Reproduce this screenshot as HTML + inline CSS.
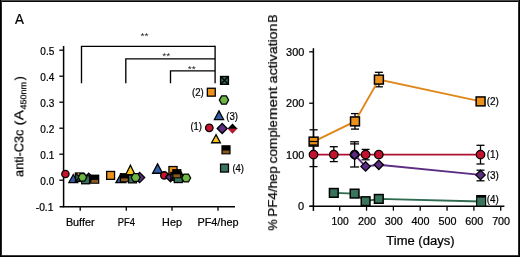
<!DOCTYPE html>
<html><head><meta charset="utf-8"><title>Figure</title>
<style>
html,body{margin:0;padding:0;background:#fff;}
svg{display:block;will-change:transform;font-family:"Liberation Sans","DejaVu Sans",sans-serif;fill:#000;}
text{stroke:#000;stroke-width:0.24px;filter:url(#nf);}
</style></head><body>
<svg width="520" height="257" viewBox="0 0 520 257">
<defs><filter id="nf" x="-10%" y="-10%" width="120%" height="120%"><feOffset dx="0" dy="0"/></filter></defs>
<rect x="0" y="0" width="520" height="257" fill="#fff"/>
<g shape-rendering="crispEdges">
<rect x="0" y="0" width="520" height="1" fill="#484848"/>
<rect x="0" y="1" width="520" height="1" fill="#0a0a0a"/>
<rect x="0" y="255" width="520" height="1" fill="#3c3c3c"/>
<rect x="0" y="256" width="520" height="1" fill="#000"/>
<rect x="0" y="0" width="1" height="257" fill="#000"/>
<rect x="1" y="1" width="1" height="255" fill="#2a2a2a"/>
<rect x="519" y="0" width="1" height="257" fill="#000"/>
<rect x="518" y="1" width="1" height="255" fill="#2c2c2c"/>
</g>
<text x="14.9" y="24.2" font-size="14.5" text-anchor="start" textLength="8.9" lengthAdjust="spacingAndGlyphs">A</text>
<line x1="63.6" y1="46" x2="63.6" y2="207.4" stroke="#000" stroke-width="1.5"/>
<line x1="59.6" y1="206.75" x2="235" y2="206.75" stroke="#000" stroke-width="1.5"/>
<line x1="59.3" y1="50.2" x2="63.6" y2="50.2" stroke="#000" stroke-width="1.3"/>
<text x="54.3" y="54.5" font-size="11" text-anchor="end" textLength="14" lengthAdjust="spacingAndGlyphs">0.5</text>
<line x1="59.3" y1="76.2" x2="63.6" y2="76.2" stroke="#000" stroke-width="1.3"/>
<text x="54.3" y="80.5" font-size="11" text-anchor="end" textLength="14" lengthAdjust="spacingAndGlyphs">0.4</text>
<line x1="59.3" y1="102.2" x2="63.6" y2="102.2" stroke="#000" stroke-width="1.3"/>
<text x="54.3" y="106.5" font-size="11" text-anchor="end" textLength="14" lengthAdjust="spacingAndGlyphs">0.3</text>
<line x1="59.3" y1="128.2" x2="63.6" y2="128.2" stroke="#000" stroke-width="1.3"/>
<text x="54.3" y="132.5" font-size="11" text-anchor="end" textLength="14" lengthAdjust="spacingAndGlyphs">0.2</text>
<line x1="59.3" y1="154.2" x2="63.6" y2="154.2" stroke="#000" stroke-width="1.3"/>
<text x="54.3" y="158.5" font-size="11" text-anchor="end" textLength="14" lengthAdjust="spacingAndGlyphs">0.1</text>
<line x1="59.3" y1="180.2" x2="63.6" y2="180.2" stroke="#000" stroke-width="1.3"/>
<text x="54.3" y="184.5" font-size="11" text-anchor="end" textLength="14" lengthAdjust="spacingAndGlyphs">0.0</text>
<text x="53.5" y="210.7" font-size="11" text-anchor="end" textLength="17.8" lengthAdjust="spacingAndGlyphs">-0.1</text>
<line x1="80.2" y1="206.5" x2="80.2" y2="210.8" stroke="#000" stroke-width="1.3"/>
<text x="80.2" y="225.5" font-size="11.5" text-anchor="middle" textLength="28.6" lengthAdjust="spacingAndGlyphs">Buffer</text>
<line x1="126.3" y1="206.5" x2="126.3" y2="210.8" stroke="#000" stroke-width="1.3"/>
<text x="126.3" y="225.5" font-size="11.5" text-anchor="middle" textLength="17.2" lengthAdjust="spacingAndGlyphs">PF4</text>
<line x1="172" y1="206.5" x2="172" y2="210.8" stroke="#000" stroke-width="1.3"/>
<text x="172" y="225.5" font-size="11.5" text-anchor="middle" textLength="19.8" lengthAdjust="spacingAndGlyphs">Hep</text>
<line x1="218" y1="206.5" x2="218" y2="210.8" stroke="#000" stroke-width="1.3"/>
<text x="218" y="225.5" font-size="11.5" text-anchor="middle" textLength="41.2" lengthAdjust="spacingAndGlyphs">PF4/hep</text>
<g transform="translate(23.4,177) rotate(-90)">
<text x="0.1" y="0" font-size="13" text-anchor="start" textLength="47.4" lengthAdjust="spacingAndGlyphs">anti-C3c</text>
<text x="51.6" y="0" font-size="13" text-anchor="start" textLength="15.3" lengthAdjust="spacingAndGlyphs">(A</text>
<text x="67.4" y="2.5" font-size="8.8" text-anchor="start" textLength="27.6" lengthAdjust="spacingAndGlyphs">450nm</text>
<text x="96.6" y="0" font-size="13" text-anchor="start">)</text>
</g>
<path d="M81.5,83.2 V46.4 H215.1" fill="none" stroke="#000" stroke-width="1.35"/>
<path d="M125.8,83.2 V58.9 H215.1" fill="none" stroke="#000" stroke-width="1.35"/>
<path d="M170.5,83.2 V70.8 H215.1" fill="none" stroke="#000" stroke-width="1.35"/>
<line x1="215.1" y1="45.8" x2="215.1" y2="83.2" stroke="#000" stroke-width="1.35"/>
<text x="144.6" y="39.400000000000006" font-size="9.6" text-anchor="middle" textLength="8.0" lengthAdjust="spacingAndGlyphs" style="stroke:none;fill:#1a1a1a">**</text>
<text x="166.3" y="59.2" font-size="9.6" text-anchor="middle" textLength="8.0" lengthAdjust="spacingAndGlyphs" style="stroke:none;fill:#1a1a1a">**</text>
<text x="191.8" y="71.5" font-size="9.6" text-anchor="middle" textLength="8.0" lengthAdjust="spacingAndGlyphs" style="stroke:none;fill:#1a1a1a">**</text>
<circle cx="65.4" cy="174" r="3.65" fill="#C4122F" stroke="#000" stroke-width="1.3"/>
<rect x="75.55" y="173.55" width="7.90" height="7.90" fill="#EC921C" stroke="#000" stroke-width="1.3"/>
<polygon points="88.7,173.21 93.29,177.8 88.7,182.39000000000001 84.11,177.8" fill="#5C2D82" stroke="#000" stroke-width="1.3"/>
<polygon points="73.3,174.5 68.89999999999999,182.54999999999998 77.7,182.54999999999998" fill="#2F5FA6" stroke="#000" stroke-width="1.3" stroke-linejoin="miter"/>
<rect x="75.55" y="173.15" width="8.10" height="8.10" fill="#39755B" stroke="#000" stroke-width="1.5"/>
<path d="M75.8,173.39999999999998 L83.39999999999999,181.0 M83.39999999999999,173.39999999999998 L75.8,181.0" stroke="#000" stroke-width="1.25" fill="none"/>
<rect x="81.65" y="175.85" width="7.90" height="7.90" fill="#39755B" stroke="#000" stroke-width="1.3"/>
<polygon points="86.75,177.40 84.62,181.19 80.38,181.19 78.25,177.40 80.38,173.61 84.62,173.61" fill="#6DB644" stroke="#000" stroke-width="1.3"/>
<rect x="77.6" y="173.2" width="1.6" height="1.2" fill="#F0941D"/>
<rect x="90.10" y="174.60" width="9.2" height="9.2" fill="#000"/>
<rect x="91.35" y="179.90" width="6.699999999999999" height="2.90" fill="#8A5922"/>
<rect x="106.65" y="171.45" width="7.90" height="7.90" fill="#EC921C" stroke="#000" stroke-width="1.3"/>
<polygon points="120.8,174.20000000000002 115.89999999999999,182.55 125.7,182.55" fill="#2F5FA6" stroke="#000" stroke-width="1.3" stroke-linejoin="miter"/>
<polygon points="139.6,172.51 144.69,177.6 139.6,182.69 134.51,177.6" fill="#5C2D82" stroke="#000" stroke-width="1.3"/>
<rect x="128.55" y="174.95" width="7.90" height="7.90" fill="#39755B" stroke="#000" stroke-width="1.3"/>
<rect x="119.80" y="173.10" width="9.2" height="9.2" fill="#000"/>
<rect x="121.05" y="178.40" width="6.699999999999999" height="2.90" fill="#8A5922"/>
<polygon points="130.4,165.3 125.8,174.55 135.0,174.55" fill="#F7C51E" stroke="#000" stroke-width="1.3" stroke-linejoin="miter"/>
<polygon points="140.15,177.50 137.92,181.47 133.47,181.47 131.25,177.50 133.47,173.53 137.92,173.53" fill="#6DB644" stroke="#000" stroke-width="1.3"/>
<polygon points="157.6,163.9 152.6,173.25 162.6,173.25" fill="#2F5FA6" stroke="#000" stroke-width="1.3" stroke-linejoin="miter"/>
<circle cx="164.3" cy="175.4" r="3.65" fill="#C4122F" stroke="#000" stroke-width="1.3"/>
<polygon points="170.5,172.21 175.29,177.0 170.5,181.79 165.71,177.0" fill="#5C2D82" stroke="#000" stroke-width="1.3"/>
<rect x="168.95" y="166.55" width="8.10" height="8.10" fill="#EC921C" stroke="#000" stroke-width="1.3"/>
<polygon points="180.2,170.5 177.29999999999998,175.95 183.1,175.95" fill="#F7C51E" stroke="#000" stroke-width="1.3" stroke-linejoin="miter"/>
<rect x="170.95" y="172.55" width="7.70" height="7.70" fill="#39755B" stroke="#000" stroke-width="1.5"/>
<path d="M171.20000000000002,172.8 L178.4,180.0 M178.4,172.8 L171.20000000000002,180.0" stroke="#000" stroke-width="1.25" fill="none"/>
<rect x="174.25" y="174.45" width="8.10" height="8.10" fill="#39755B" stroke="#000" stroke-width="1.3"/>
<rect x="172.20" y="169.10" width="9.2" height="9.2" fill="#000"/>
<rect x="173.45" y="174.40" width="6.699999999999999" height="2.90" fill="#8A5922"/>
<polygon points="190.65,178.00 188.42,181.97 183.97,181.97 181.75,178.00 183.97,174.03 188.42,174.03" fill="#6DB644" stroke="#000" stroke-width="1.3"/>
<rect x="220.65" y="76.55" width="7.70" height="7.70" fill="#39755B" stroke="#000" stroke-width="1.5"/>
<path d="M220.9,76.80000000000001 L228.1,84.0 M228.1,76.80000000000001 L220.9,84.0" stroke="#000" stroke-width="1.25" fill="none"/>
<rect x="207.35" y="88.25" width="7.90" height="7.90" fill="#EC921C" stroke="#000" stroke-width="1.3"/>
<polygon points="228.65,100.00 226.32,104.15 221.68,104.15 219.35,100.00 221.68,95.85 226.32,95.85" fill="#6DB644" stroke="#000" stroke-width="1.3"/>
<polygon points="219,110.9 214.4,119.55 223.6,119.55" fill="#2F5FA6" stroke="#000" stroke-width="1.3" stroke-linejoin="miter"/>
<circle cx="209.3" cy="127.8" r="3.75" fill="#C4122F" stroke="#000" stroke-width="1.3"/>
<polygon points="222.2,123.51 227.19,128.5 222.2,133.49 217.20999999999998,128.5" fill="#5C2D82" stroke="#000" stroke-width="1.3"/>
<polygon points="227.7,128.4 237.3,128.4 232.5,133.4" fill="#C4122F" stroke="#7a0a1c" stroke-width="0.4"/>
<polygon points="227.5,128.70000000000002 232.5,123.50000000000001 237.5,128.70000000000002" fill="#000"/>
<polygon points="216,134.70000000000002 211.6,142.75 220.4,142.75" fill="#F7C51E" stroke="#000" stroke-width="1.3" stroke-linejoin="miter"/>
<rect x="221.40" y="145.20" width="9.2" height="9.2" fill="#000"/>
<rect x="222.65" y="150.50" width="6.699999999999999" height="2.90" fill="#8A5922"/>
<rect x="220.55" y="164.15" width="7.90" height="7.90" fill="#39755B" stroke="#000" stroke-width="1.3"/>
<text x="192" y="95.8" font-size="11.5" text-anchor="start" textLength="11.8" lengthAdjust="spacingAndGlyphs">(2)</text>
<text x="226.2" y="119.6" font-size="11.5" text-anchor="start" textLength="11.8" lengthAdjust="spacingAndGlyphs">(3)</text>
<text x="190.4" y="129.8" font-size="11.5" text-anchor="start" textLength="11.6" lengthAdjust="spacingAndGlyphs">(1)</text>
<text x="232.4" y="171.8" font-size="11.5" text-anchor="start" textLength="11.6" lengthAdjust="spacingAndGlyphs">(4)</text>
<line x1="313.4" y1="48.2" x2="313.4" y2="210.9" stroke="#000" stroke-width="1.5"/>
<line x1="309.6" y1="206.3" x2="504.4" y2="206.3" stroke="#000" stroke-width="1.45"/>
<line x1="309.2" y1="51.8" x2="313.4" y2="51.8" stroke="#000" stroke-width="1.3"/>
<text x="304.3" y="55.8" font-size="11" text-anchor="end" textLength="18.2" lengthAdjust="spacingAndGlyphs">300</text>
<line x1="309.2" y1="103.22999999999999" x2="313.4" y2="103.22999999999999" stroke="#000" stroke-width="1.3"/>
<text x="304.3" y="107.22999999999999" font-size="11" text-anchor="end" textLength="18.2" lengthAdjust="spacingAndGlyphs">200</text>
<line x1="309.2" y1="154.66" x2="313.4" y2="154.66" stroke="#000" stroke-width="1.3"/>
<text x="304.3" y="158.66" font-size="11" text-anchor="end" textLength="18.2" lengthAdjust="spacingAndGlyphs">100</text>
<line x1="309.2" y1="206.28999999999996" x2="313.4" y2="206.28999999999996" stroke="#000" stroke-width="1.3"/>
<text x="304.1" y="210.08999999999997" font-size="11" text-anchor="end">0</text>
<line x1="339.7" y1="206" x2="339.7" y2="210.7" stroke="#000" stroke-width="1.3"/>
<text x="340.09999999999997" y="225.1" font-size="11" text-anchor="middle" textLength="17.2" lengthAdjust="spacingAndGlyphs">100</text>
<line x1="366.54" y1="206" x2="366.54" y2="210.7" stroke="#000" stroke-width="1.3"/>
<text x="366.94" y="225.1" font-size="11" text-anchor="middle" textLength="18" lengthAdjust="spacingAndGlyphs">200</text>
<line x1="393.38" y1="206" x2="393.38" y2="210.7" stroke="#000" stroke-width="1.3"/>
<text x="393.78" y="225.1" font-size="11" text-anchor="middle" textLength="18" lengthAdjust="spacingAndGlyphs">300</text>
<line x1="420.22" y1="206" x2="420.22" y2="210.7" stroke="#000" stroke-width="1.3"/>
<text x="420.62" y="225.1" font-size="11" text-anchor="middle" textLength="18" lengthAdjust="spacingAndGlyphs">400</text>
<line x1="447.06" y1="206" x2="447.06" y2="210.7" stroke="#000" stroke-width="1.3"/>
<text x="447.46" y="225.1" font-size="11" text-anchor="middle" textLength="18" lengthAdjust="spacingAndGlyphs">500</text>
<line x1="473.9" y1="206" x2="473.9" y2="210.7" stroke="#000" stroke-width="1.3"/>
<text x="474.29999999999995" y="225.1" font-size="11" text-anchor="middle" textLength="18" lengthAdjust="spacingAndGlyphs">600</text>
<line x1="500.74" y1="206" x2="500.74" y2="210.7" stroke="#000" stroke-width="1.3"/>
<text x="501.14" y="225.1" font-size="11" text-anchor="middle" textLength="18" lengthAdjust="spacingAndGlyphs">700</text>
<text x="386.3" y="244.8" font-size="12.5" text-anchor="start" textLength="68.2" lengthAdjust="spacingAndGlyphs">Time (days)</text>
<g transform="translate(277.1,230.2) rotate(-90)">
<text x="-0.4" y="0" font-size="12.5" text-anchor="start" textLength="11.3" lengthAdjust="spacingAndGlyphs">%</text>
<text x="13.6" y="0" font-size="12.5" text-anchor="start" textLength="50.2" lengthAdjust="spacingAndGlyphs">PF4/hep</text>
<text x="66.7" y="0" font-size="12.5" text-anchor="start" textLength="25.8" lengthAdjust="spacingAndGlyphs">com</text>
<text x="92.8" y="0" font-size="12.5" text-anchor="start" textLength="16.9" lengthAdjust="spacingAndGlyphs">ple</text>
<text x="110.3" y="0" font-size="12.5" text-anchor="start" textLength="33.2" lengthAdjust="spacingAndGlyphs">ment</text>
<text x="146.8" y="0" font-size="12.5" text-anchor="start" textLength="59.8" lengthAdjust="spacingAndGlyphs">activation</text>
<text x="207.5" y="0" font-size="12" text-anchor="start" textLength="8.2" lengthAdjust="spacingAndGlyphs">B</text>
</g>
<polyline points="333.8,192.9 354.6,193.6 365.6,201.2 378.8,198.9 481,201.5" fill="none" stroke="#2F6B50" stroke-width="1.9"/>
<rect x="329.45" y="188.55" width="8.70" height="8.70" fill="#39755B" stroke="#000" stroke-width="1.5"/>
<rect x="350.25" y="189.25" width="8.70" height="8.70" fill="#39755B" stroke="#000" stroke-width="1.5"/>
<rect x="361.25" y="196.85" width="8.70" height="8.70" fill="#39755B" stroke="#000" stroke-width="1.5"/>
<rect x="374.45" y="194.55" width="8.70" height="8.70" fill="#39755B" stroke="#000" stroke-width="1.5"/>
<rect x="476.1" y="195" width="10.1" height="11" fill="#000"/>
<rect x="477.2" y="197.6" width="7.9" height="8" fill="#39755B"/>
<line x1="313.6" y1="129.8" x2="313.6" y2="153" stroke="#000" stroke-width="1.3"/>
<line x1="309.6" y1="129.8" x2="317.6" y2="129.8" stroke="#000" stroke-width="1.3"/>
<line x1="309.6" y1="153" x2="317.6" y2="153" stroke="#000" stroke-width="1.3"/>
<line x1="355" y1="113.6" x2="355" y2="129.1" stroke="#000" stroke-width="1.3"/>
<line x1="351.0" y1="113.6" x2="359.0" y2="113.6" stroke="#000" stroke-width="1.3"/>
<line x1="351.0" y1="129.1" x2="359.0" y2="129.1" stroke="#000" stroke-width="1.3"/>
<line x1="378.9" y1="72.3" x2="378.9" y2="86.8" stroke="#000" stroke-width="1.3"/>
<line x1="374.9" y1="72.3" x2="382.9" y2="72.3" stroke="#000" stroke-width="1.3"/>
<line x1="374.9" y1="86.8" x2="382.9" y2="86.8" stroke="#000" stroke-width="1.3"/>
<polyline points="313.6,141.6 355,121.4 378.9,79.6 480.6,101.4" fill="none" stroke="#E0871A" stroke-width="1.9"/>
<rect x="309.15" y="137.15" width="8.90" height="8.90" fill="#EC921C" stroke="#000" stroke-width="1.5"/>
<rect x="350.55" y="116.95" width="8.90" height="8.90" fill="#EC921C" stroke="#000" stroke-width="1.5"/>
<rect x="374.45" y="75.15" width="8.90" height="8.90" fill="#EC921C" stroke="#000" stroke-width="1.5"/>
<rect x="476.15" y="96.95" width="8.90" height="8.90" fill="#EC921C" stroke="#000" stroke-width="1.5"/>
<line x1="309" y1="141.5" x2="318.2" y2="141.5" stroke="#000" stroke-width="1.2"/>
<line x1="313.5" y1="145" x2="313.5" y2="166.6" stroke="#000" stroke-width="1.3"/>
<line x1="309.5" y1="145" x2="317.5" y2="145" stroke="#000" stroke-width="1.3"/>
<line x1="309.5" y1="166.6" x2="317.5" y2="166.6" stroke="#000" stroke-width="1.3"/>
<line x1="333.8" y1="146.7" x2="333.8" y2="161.6" stroke="#000" stroke-width="1.3"/>
<line x1="329.8" y1="146.7" x2="337.8" y2="146.7" stroke="#000" stroke-width="1.3"/>
<line x1="329.8" y1="161.6" x2="337.8" y2="161.6" stroke="#000" stroke-width="1.3"/>
<line x1="354.6" y1="141.8" x2="354.6" y2="167" stroke="#000" stroke-width="1.3"/>
<line x1="350.1" y1="141.8" x2="359.1" y2="141.8" stroke="#000" stroke-width="1.3"/>
<line x1="350.1" y1="167" x2="359.1" y2="167" stroke="#000" stroke-width="1.3"/>
<line x1="365.6" y1="149.4" x2="365.6" y2="159.8" stroke="#000" stroke-width="1.3"/>
<line x1="361.6" y1="149.4" x2="369.6" y2="149.4" stroke="#000" stroke-width="1.3"/>
<line x1="361.6" y1="159.8" x2="369.6" y2="159.8" stroke="#000" stroke-width="1.3"/>
<line x1="480.5" y1="145.3" x2="480.5" y2="164" stroke="#000" stroke-width="1.3"/>
<line x1="476.5" y1="145.3" x2="484.5" y2="145.3" stroke="#000" stroke-width="1.3"/>
<line x1="476.5" y1="164" x2="484.5" y2="164" stroke="#000" stroke-width="1.3"/>
<line x1="350.1" y1="143.9" x2="359.1" y2="143.9" stroke="#000" stroke-width="1.3"/>
<polyline points="313.5,154.6 333.8,154.6 354.6,154.6 365.6,154.6 378.8,154.6 480.5,154.6" fill="none" stroke="#B01030" stroke-width="1.9"/>
<circle cx="313.5" cy="154.6" r="4.25" fill="#C4122F" stroke="#000" stroke-width="1.3"/>
<circle cx="333.8" cy="154.6" r="4.25" fill="#C4122F" stroke="#000" stroke-width="1.3"/>
<circle cx="354.6" cy="154.6" r="4.25" fill="#C4122F" stroke="#000" stroke-width="1.3"/>
<circle cx="365.6" cy="154.6" r="4.25" fill="#C4122F" stroke="#000" stroke-width="1.3"/>
<circle cx="378.8" cy="154.6" r="4.25" fill="#C4122F" stroke="#000" stroke-width="1.3"/>
<circle cx="480.5" cy="154.6" r="4.25" fill="#C4122F" stroke="#000" stroke-width="1.3"/>
<line x1="480.5" y1="170.2" x2="480.5" y2="180.8" stroke="#000" stroke-width="1.3"/>
<line x1="476.5" y1="170.2" x2="484.5" y2="170.2" stroke="#000" stroke-width="1.3"/>
<line x1="476.5" y1="180.8" x2="484.5" y2="180.8" stroke="#000" stroke-width="1.3"/>
<polyline points="354.6,154.8 365.6,166.4 378.8,164.8 480.5,174.9" fill="none" stroke="#5C2D82" stroke-width="1.9"/>
<polygon points="354.6,150.11 359.29,154.8 354.6,159.49 349.91,154.8" fill="#5C2D82" stroke="#000" stroke-width="1.3"/>
<polygon points="365.6,161.71 370.29,166.4 365.6,171.09 360.91,166.4" fill="#5C2D82" stroke="#000" stroke-width="1.3"/>
<polygon points="378.8,160.11 383.49,164.8 378.8,169.49 374.11,164.8" fill="#5C2D82" stroke="#000" stroke-width="1.3"/>
<polygon points="480.5,170.21 485.19,174.9 480.5,179.59 475.81,174.9" fill="#5C2D82" stroke="#000" stroke-width="1.3"/>
<text x="486.7" y="105.2" font-size="11.5" text-anchor="start" textLength="12.2" lengthAdjust="spacingAndGlyphs">(2)</text>
<text x="486.7" y="158.4" font-size="11.5" text-anchor="start" textLength="12" lengthAdjust="spacingAndGlyphs">(1)</text>
<text x="486.7" y="178.8" font-size="11.5" text-anchor="start" textLength="12.2" lengthAdjust="spacingAndGlyphs">(3)</text>
<text x="486.7" y="203.2" font-size="11.5" text-anchor="start" textLength="12" lengthAdjust="spacingAndGlyphs">(4)</text>
</svg>
</body></html>
